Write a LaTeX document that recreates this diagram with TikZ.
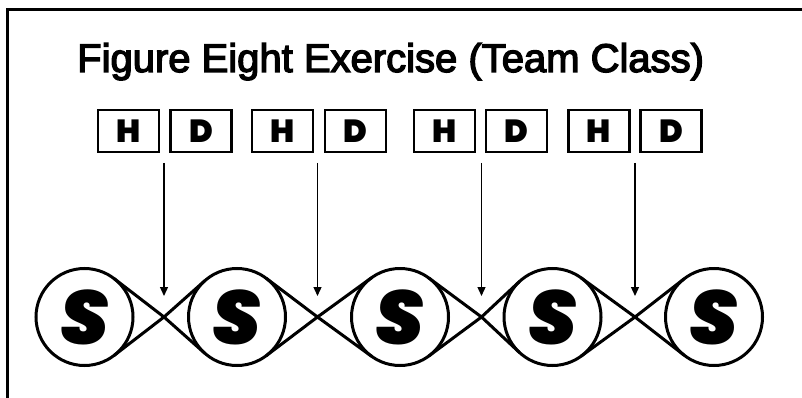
\documentclass[tikz,border=0pt]{standalone}
\usepackage{fontspec}
\setmainfont{Liberation Sans}
\newfontfamily\titlefont{Liberation Sans}[FakeBold=3.4]
\newfontfamily\heavyfont{Poppins}[UprightFont={* Black}, ItalicFont={* Black Italic}, BoldFont={* Black}, BoldItalicFont={* Black Italic}]
\usetikzlibrary{calc,arrows.meta}
\tikzset{
  frameline/.style={line width=3pt, line cap=rect},
  letterbox/.style={draw, line width=2.5pt, minimum width=61pt, minimum height=42pt, inner sep=0pt, outer sep=0pt, font=\heavyfont\fontsize{32}{32}\selectfont},
  swimmer/.style={circle, draw, line width=3pt, minimum size=97pt, inner sep=0pt, outer sep=0pt, font=\heavyfont\itshape\fontsize{76}{76}\selectfont},
  belt/.style={line width=3pt, line cap=round},
  pointer/.style={line width=1.3pt, -{Triangle[length=9pt,width=8pt]}},
  titletext/.style={anchor=base west, inner sep=0pt, font=\titlefont\fontsize{40}{40}\selectfont}
}
\begin{document}
\begin{tikzpicture}[x=1pt,y=-1pt]
\useasboundingbox (0,0) rectangle (802,398);
% frame
\draw[frameline] (7.3,400) -- (7.3,10) -- (804,10);
% title
\node[titletext] (title) at (77,72) {Figure Eight Exercise (Team Class)};
% letter boxes
\node[letterbox] (h1) at (128.5,131) {H};
\node[letterbox] (d1) at (201,131) {D};
\node[letterbox] (h2) at (282.5,131) {H};
\node[letterbox] (d2) at (355.5,131) {D};
\node[letterbox] (h3) at (444.5,131) {H};
\node[letterbox] (d3) at (516.5,131) {D};
\node[letterbox] (h4) at (599,131) {H};
\node[letterbox] (d4) at (671,131) {D};
% swimmers
\node[swimmer] (c1) at (84.5,317) {S};
\node[swimmer] (c2) at (237,317) {S};
\node[swimmer] (c3) at (400,317) {S};
\node[swimmer] (c4) at (552.5,317) {S};
\node[swimmer] (c5) at (714,317) {S};
% crossings
\coordinate (x1) at (164,317);
\coordinate (x2) at (317.5,317);
\coordinate (x3) at (481.5,317);
\coordinate (x4) at (635,317);
% belt lines
\foreach \l/\x/\r in {c1/x1/c2, c2/x2/c3, c3/x3/c4, c4/x4/c5}{
  \draw[belt] (tangent cs:node=\l,point={(\x)},solution=1) -- (\x) -- (tangent cs:node=\r,point={(\x)},solution=2);
  \draw[belt] (tangent cs:node=\l,point={(\x)},solution=2) -- (\x) -- (tangent cs:node=\r,point={(\x)},solution=1);
}
% pointer arrows
\coordinate (s1) at (164,163);
\coordinate (s2) at (317.5,163);
\coordinate (s3) at (481.5,163);
\coordinate (s4) at (635,163);
\foreach \i in {1,2,3,4}{
  \draw[pointer] (s\i) -- ([yshift=21pt]x\i);
}
\end{tikzpicture}
\end{document}
